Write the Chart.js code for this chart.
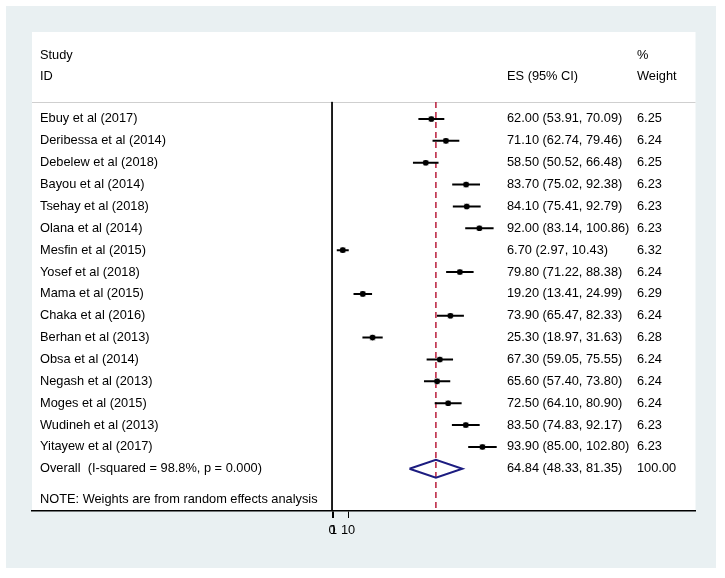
<!DOCTYPE html>
<html>
<head>
<meta charset="utf-8">
<script src="https://cdn.jsdelivr.net/npm/chart.js@4/dist/chart.umd.min.js"></script>
<style>
html,body{margin:0;padding:0;background:#ffffff;}
#wrap{width:725px;height:578px;}
</style>
</head>
<body>
<div id="wrap"><canvas id="c" width="725" height="578"></canvas></div>
<script>
// ---- data ----
const studies = ["Ebuy et al (2017)","Deribessa et al (2014)","Debelew et al (2018)","Bayou et al (2014)","Tsehay et al (2018)","Olana et al (2014)","Mesfin et al (2015)","Yosef et al (2018)","Mama et al (2015)","Chaka et al (2016)","Berhan et al (2013)","Obsa et al (2014)","Negash et al (2013)","Moges et al (2015)","Wudineh et al (2013)","Yitayew et al (2017)"];
const es    = [62.00,71.10,58.50,83.70,84.10,92.00,6.70,79.80,19.20,73.90,25.30,67.30,65.60,72.50,83.50,93.90];
const lower = [53.91,62.74,50.52,75.02,75.41,83.14,2.97,71.22,13.41,65.47,18.97,59.05,57.40,64.10,74.83,85.00];
const upper = [70.09,79.46,66.48,92.38,92.79,100.86,10.43,88.38,24.99,82.33,31.63,75.55,73.80,80.90,92.17,102.80];
const weights = [6.25,6.24,6.25,6.23,6.23,6.23,6.32,6.24,6.29,6.24,6.28,6.24,6.24,6.24,6.23,6.23];
const overallLabel = "Overall  (I-squared = 98.8%, p = 0.000)";
const overallES = 64.84, overallLo = 48.33, overallHi = 81.35, overallWeight = 100.00;
const xTicks = [0, 1, 10];
const noteText = "NOTE: Weights are from random effects analysis";

// ---- layout / style ----
const FONT_FAMILY = "'Liberation Sans', Arial, sans-serif";
const FONT = "12.8px " + FONT_FAMILY;
const overallRow = studies.length;
const nullValue = 0;
const diamondHalf = 0.41; // row units
const lineTop = -0.78;

const datasets = [];
// CI lines
studies.forEach((s, i) => {
  datasets.push({
    type: 'line', data: [{x: lower[i], y: i}, {x: upper[i], y: i}],
    borderColor: '#000', borderWidth: 2, pointRadius: 0, order: 3
  });
});
// weight boxes
datasets.push({
  type: 'scatter', data: es.map((v, i) => ({x: v, y: i})),
  pointStyle: 'rect', pointRadius: 4, backgroundColor: '#a8a8a8', borderWidth: 0, order: 4
});
// point estimates
datasets.push({
  type: 'scatter', data: es.map((v, i) => ({x: v, y: i})),
  pointStyle: 'circle', pointRadius: 2.8, backgroundColor: '#000', borderWidth: 0, order: 1
});
// null line
datasets.push({
  type: 'line', data: [{x: nullValue, y: lineTop}, {x: nullValue, y: 17.93}],
  borderColor: '#000', borderWidth: 1, pointRadius: 0, order: 5
});
// overall dashed line
datasets.push({
  type: 'line', data: [{x: overallES, y: lineTop}, {x: overallES, y: 17.93}],
  borderColor: '#b81c3a', borderWidth: 1.5, borderDash: [6, 4], pointRadius: 0, order: 6
});
// diamond
datasets.push({
  type: 'line', data: [
    {x: overallLo, y: overallRow}, {x: overallES, y: overallRow - diamondHalf},
    {x: overallHi, y: overallRow}, {x: overallES, y: overallRow + diamondHalf},
    {x: overallLo, y: overallRow}],
  borderColor: '#1c1c80', borderWidth: 2, pointRadius: 0, fill: false, order: 0
});

const bgPlugin = {
  id: 'bg',
  beforeDraw(chart) {
    const ctx = chart.ctx;
    ctx.save();
    ctx.fillStyle = '#ffffff';
    ctx.fillRect(0, 0, 725, 578);
    ctx.fillStyle = '#e9f0f2';
    ctx.fillRect(6, 6, 710, 562);
    const a = chart.chartArea;
    ctx.fillStyle = '#ffffff';
    ctx.fillRect(a.left, a.top, a.right - a.left, a.bottom - a.top);
    ctx.strokeStyle = '#cfcfcf';
    ctx.lineWidth = 1.2;
    ctx.beginPath();
    ctx.moveTo(a.left, 102.5);
    ctx.lineTo(a.right, 102.5);
    ctx.stroke();
    ctx.restore();
  },
  afterDraw(chart) {
    const ctx = chart.ctx;
    const y = chart.scales.y;
    ctx.save();
    ctx.fillStyle = '#000';
    ctx.font = FONT;
    ctx.textBaseline = 'middle';
    ctx.textAlign = 'left';
    const xLab = 40, xES = 507, xW = 637;
    ctx.fillText('Study', xLab, 55);
    ctx.fillText('ID', xLab, 76);
    ctx.fillText('ES (95% CI)', xES, 76);
    ctx.fillText('%', xW, 55);
    ctx.fillText('Weight', xW, 76);
    studies.forEach((s, i) => {
      const py = y.getPixelForValue(i);
      ctx.fillText(s, xLab, py);
      ctx.fillText(es[i].toFixed(2) + ' (' + lower[i].toFixed(2) + ', ' + upper[i].toFixed(2) + ')', xES, py);
      ctx.fillText(weights[i].toFixed(2), xW, py);
    });
    const po = y.getPixelForValue(overallRow);
    ctx.fillText(overallLabel, xLab, po);
    ctx.fillText(overallES.toFixed(2) + ' (' + overallLo.toFixed(2) + ', ' + overallHi.toFixed(2) + ')', xES, po);
    ctx.fillText(overallWeight.toFixed(2), xW, po);
    ctx.fillText(noteText, xLab, 499);
    ctx.restore();
  }
};

new Chart(document.getElementById('c'), {
  data: { datasets },
  options: {
    responsive: false,
    animation: false,
    devicePixelRatio: 1,
    layout: { padding: { left: 32, right: 29.5, top: 32, bottom: 0 } },
    plugins: { legend: { display: false }, tooltip: { enabled: false } },
    scales: {
      x: {
        type: 'linear', min: -187.3, max: 226.9,
        afterBuildTicks: (s) => { s.ticks = xTicks.map(v => ({value: v})); },
        afterFit: (s) => { s.height = 67; },
        grid: { drawOnChartArea: false, drawTicks: true, tickLength: 7, color: '#000', lineWidth: 1 },
        border: { display: true, color: '#000', width: 1.5 },
        ticks: { color: '#000', font: { family: FONT_FAMILY, size: 12.8 }, padding: 5, maxRotation: 0, autoSkip: false }
      },
      y: {
        type: 'linear', display: false, reverse: true, min: -3.978, max: 17.93
      }
    }
  },
  plugins: [bgPlugin]
});
</script>
</body>
</html>
